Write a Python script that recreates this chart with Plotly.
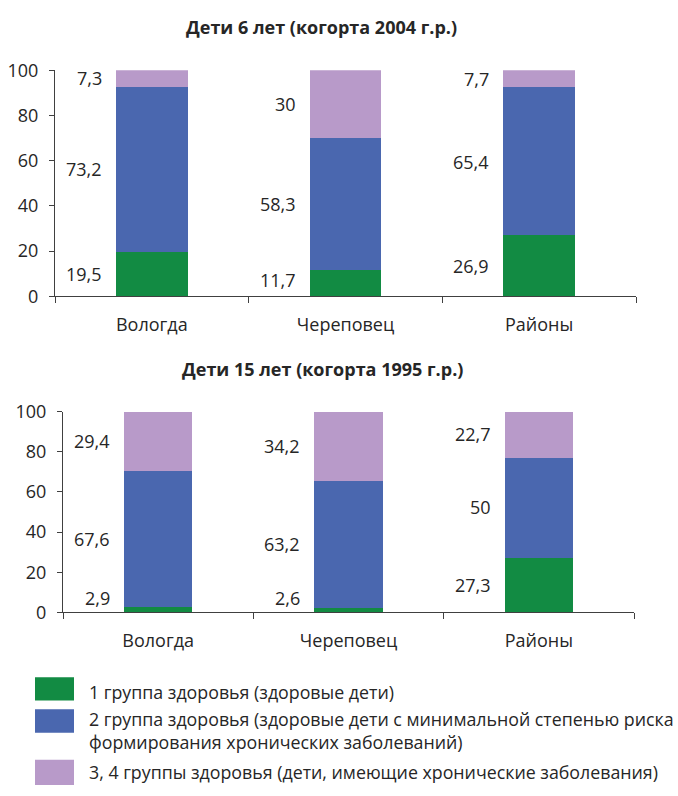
import plotly.graph_objects as go

# ---------------- data ----------------
categories = ["Вологда", "Череповец", "Районы"]
titles = ["Дети 6 лет (когорта 2004 г.р.)", "Дети 15 лет (когорта 1995 г.р.)"]
series_names = [
    "1 группа здоровья (здоровые дети)",
    "2 группа здоровья (здоровые дети с минимальной степенью риска<br>формирования хронических заболеваний)",
    "3, 4 группы здоровья (дети, имеющие хронические заболевания)",
]
group1_age6 = [19.5, 11.7, 26.9]
group2_age6 = [73.2, 58.3, 65.4]
group34_age6 = [7.3, 30, 7.7]
group1_age15 = [2.9, 2.6, 27.3]
group2_age15 = [67.6, 63.2, 50]
group34_age15 = [29.4, 34.2, 22.7]
y_ticks = [0, 20, 40, 60, 80, 100]

colors = ["#128B43", "#4A67AF", "#B89AC9"]
FONT = "Open Sans, Noto Sans, sans-serif"
TXT = "#262626"
AX = "#404040"
W, H = 678, 796


def px_x(p):
    return p / W


def px_y(p):
    return 1 - p / H


def fmt(v):
    return f"{v:g}".replace(".", ",")


fig = go.Figure()

panels = [
    dict(data=[group1_age6, group2_age6, group34_age6], xa="x", ya="y",
         xdom=[px_x(55), px_x(636)], ydom=[px_y(292), px_y(59)], width=0.37,
         title_xy=(321, 14)),
    dict(data=[group1_age15, group2_age15, group34_age15], xa="x2", ya="y2",
         xdom=[px_x(63), px_x(634)], ydom=[px_y(618), px_y(411)], width=0.36,
         title_xy=(322, 367)),
]

annotations = []
for pi, p in enumerate(panels):
    for si, vals in enumerate(p["data"]):
        fig.add_trace(go.Bar(
            x=categories, y=vals, name=series_names[si],
            marker=dict(color=colors[si], line=dict(width=0)),
            width=p["width"], xaxis=p["xa"], yaxis=p["ya"],
            showlegend=False, hoverinfo="skip",
        ))
    for ci in range(len(categories)):
        base = 0
        for si, vals in enumerate(p["data"]):
            v = vals[ci]
            ypos = max(base + v / 2, 7)
            annotations.append(dict(
                x=ci - p["width"] / 2, y=ypos, xref=p["xa"], yref=p["ya"],
                text=fmt(v), showarrow=False, xanchor="right", yanchor="middle",
                xshift=-12, font=dict(family=FONT, size=18, color=TXT),
            ))
            base += v
    tx, ty = p["title_xy"]
    annotations.append(dict(
        x=px_x(tx), y=px_y(ty), xref="paper", yref="paper", text=f"<b>{titles[pi]}</b>",
        showarrow=False, xanchor="center", yanchor="middle",
        font=dict(family=FONT, size=18, color=TXT),
    ))

axis_common_x = dict(
    type="category", showline=True, linecolor=AX, linewidth=1,
    ticks="outside", tickson="boundaries", ticklen=6, tickcolor=AX, tickwidth=1,
    tickfont=dict(family=FONT, size=18, color=TXT), showgrid=False, zeroline=False,
    ticklabelstandoff=12, fixedrange=True,
)
axis_common_y = dict(
    range=[0, 100], tickvals=y_ticks, showline=True, linecolor=AX, linewidth=1,
    ticks="outside", ticklen=5, tickcolor=AX, tickwidth=1,
    tickfont=dict(family=FONT, size=18, color=TXT), showgrid=False, zeroline=False,
    ticklabelstandoff=7, fixedrange=True,
)

fig.update_layout(
    width=W, height=H, margin=dict(l=0, r=0, t=0, b=0),
    paper_bgcolor="white", plot_bgcolor="white", barmode="stack", bargap=0,
    xaxis=dict(domain=panels[0]["xdom"], anchor="y", **axis_common_x),
    yaxis=dict(domain=panels[0]["ydom"], anchor="x", **axis_common_y),
    xaxis2=dict(domain=panels[1]["xdom"], anchor="y2", **axis_common_x),
    yaxis2=dict(domain=panels[1]["ydom"], anchor="x2", **axis_common_y),
    showlegend=False,
)

# ---------------- custom legend ----------------
legend_boxes = [(685, 709), (718, 742), (770, 796)]
legend_text_y = [700, 740, 783]
shapes = []
for i, name in enumerate(series_names):
    y0, y1 = legend_boxes[i]
    shapes.append(dict(type="rect", xref="paper", yref="paper",
                       x0=px_x(35), x1=px_x(74), y0=px_y(y1), y1=px_y(y0),
                       fillcolor=colors[i], line=dict(width=0)))
    annotations.append(dict(
        x=px_x(87), y=px_y(legend_text_y[i]), xref="paper", yref="paper",
        text=name, showarrow=False, xanchor="left", yanchor="middle", align="left",
        font=dict(family=FONT, size=17.8, color=TXT),
    ))

fig.update_layout(shapes=shapes, annotations=annotations)
fig.write_html(
    "out.html",
    config={"displayModeBar": False},
    post_script="document.body.style.margin='0';document.body.style.overflow='hidden';",
)
